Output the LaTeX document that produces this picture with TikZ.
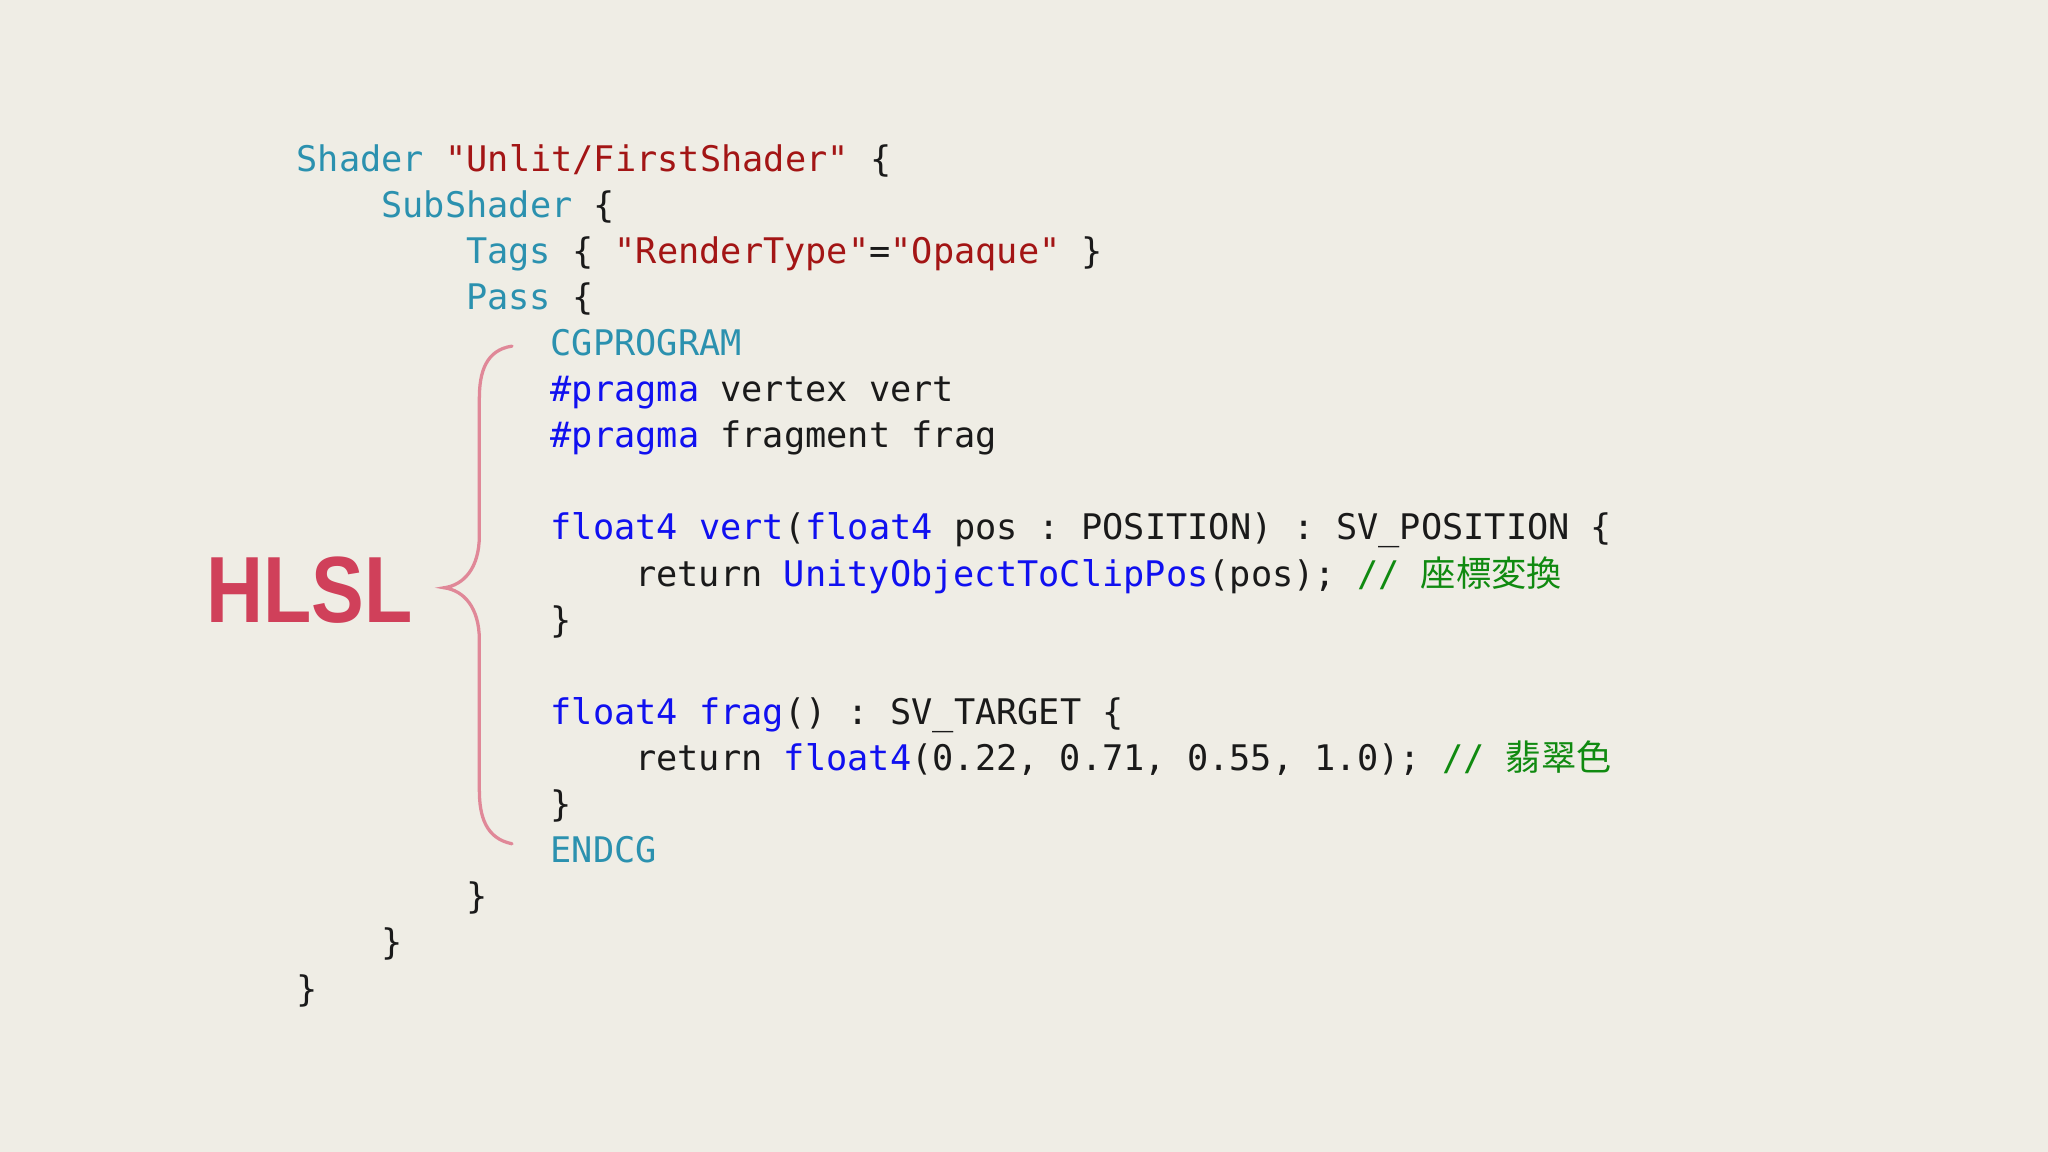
\documentclass[tikz,border=0pt]{standalone}
\usepackage{fontspec}
\setmonofont{DejaVu Sans Mono}
\setsansfont{Liberation Sans}
\newfontfamily\cjk{Noto Sans CJK JP}
\definecolor{bg}{HTML}{EFEDE5}
\definecolor{kw}{HTML}{2B91AF}
\definecolor{st}{HTML}{A31515}
\definecolor{bl}{HTML}{1010F0}
\definecolor{cm}{HTML}{108A10}
\definecolor{hl}{HTML}{D0405A}
\definecolor{br}{HTML}{E08898}
\definecolor{tx}{HTML}{1A1A1A}
\newcommand{\K}[1]{\textcolor{kw}{#1}}
\newcommand{\St}[1]{\textcolor{st}{#1}}
\newcommand{\B}[1]{\textcolor{bl}{#1}}
\newcommand{\Cm}[1]{\textcolor{cm}{#1}}
\begin{document}
\begin{tikzpicture}[x=1pt,y=-1pt,
  code/.style={anchor=base west,inner sep=0pt,text=tx,font=\ttfamily\fontsize{27}{35}\selectfont}]
\fill[bg] (0,0) rectangle (1568,882);
\def\cx#1{227+16.2*#1}
\def\ly#1{131+35.3*#1}
\node[code] (l1) at ({\cx{0}},{\ly{0}}) {\K{Shader} \St{"Unlit/FirstShader"} \{};
\node[code] (l2) at ({\cx{4}},{\ly{1}}) {\K{SubShader} \{};
\node[code] (l3) at ({\cx{8}},{\ly{2}}) {\K{Tags} \{ \St{"RenderType"}=\St{"Opaque"} \}};
\node[code] (l4) at ({\cx{8}},{\ly{3}}) {\K{Pass} \{};
\node[code] (l5) at ({\cx{12}},{\ly{4}}) {\K{CGPROGRAM}};
\node[code] (l6) at ({\cx{12}},{\ly{5}}) {\B{\#pragma} vertex vert};
\node[code] (l7) at ({\cx{12}},{\ly{6}}) {\B{\#pragma} fragment frag};
\node[code] (l9) at ({\cx{12}},{\ly{8}}) {\B{float4} \B{vert}(\B{float4} pos : POSITION) : SV\_POSITION \{};
\node[code] (l10) at ({\cx{16}},{\ly{9}}) {return \B{UnityObjectToClipPos}(pos); \Cm{// {\cjk 座標変換}}};
\node[code] (l11) at ({\cx{12}},{\ly{10}}) {\}};
\node[code] (l13) at ({\cx{12}},{\ly{12}}) {\B{float4} \B{frag}() : SV\_TARGET \{};
\node[code] (l14) at ({\cx{16}},{\ly{13}}) {return \B{float4}(0.22, 0.71, 0.55, 1.0); \Cm{// {\cjk 翡翠色}}};
\node[code] (l15) at ({\cx{12}},{\ly{14}}) {\}};
\node[code] (l16) at ({\cx{12}},{\ly{15}}) {\K{ENDCG}};
\node[code] (l17) at ({\cx{8}},{\ly{16}}) {\}};
\node[code] (l18) at ({\cx{4}},{\ly{17}}) {\}};
\node[code] (l19) at ({\cx{0}},{\ly{18}}) {\}};
\node[text=hl,font=\sffamily\bfseries\fontsize{72}{72}\selectfont,xscale=0.84,inner sep=0pt] (hlsl) at (237,452) {HLSL};
\draw[br,line width=2.5pt,line cap=round] (392,265) .. controls (372,268) and (367,285) .. (367,305)
  -- (367,410) .. controls (367,435) and (355,448) .. (340,450)
  .. controls (355,452) and (367,465) .. (367,490)
  -- (367,605) .. controls (367,625) and (372,642) .. (392,646);
\end{tikzpicture}
\end{document}
